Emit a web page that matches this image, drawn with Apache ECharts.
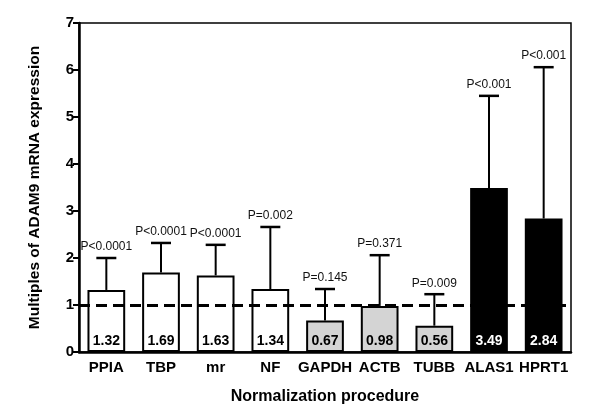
<!DOCTYPE html>
<html><head><meta charset="utf-8">
<script src="https://cdn.jsdelivr.net/npm/echarts@6/dist/echarts.min.js"></script>
<style>html,body{margin:0;padding:0;background:#fff}#c{width:600px;height:418px}</style>
</head><body><div id="c"></div>
<script>
const categories = ['PPIA','TBP','mr','NF','GAPDH','ACTB','TUBB','ALAS1','HPRT1'];
const means = [1.32,1.69,1.63,1.34,0.67,0.98,0.56,3.49,2.84];
const errTop = [2.0,2.32,2.28,2.66,1.34,2.06,1.23,5.45,6.06];
const pLabels = ['P<0.0001','P<0.0001','P<0.0001','P=0.002','P=0.145','P=0.371','P=0.009','P<0.001','P<0.001'];
const groups = ['w','w','w','w','g','g','g','b','b'];
const yTicks = [0,1,2,3,4,5,6,7];

const fill = {w:'#ffffff', g:'#d4d4d4', b:'#000000'};
const chart = echarts.init(document.getElementById('c'));
const font = 'Liberation Sans, Arial, sans-serif';

chart.setOption({
  animation:false,
  grid:{left:79,right:29,top:23,bottom:66,show:true,borderColor:'#000',borderWidth:1.5,backgroundColor:'transparent'},
  xAxis:{type:'category',data:categories,
    name:'Normalization procedure',nameLocation:'middle',nameGap:37,
    nameTextStyle:{fontFamily:font,fontWeight:'bold',fontSize:16,color:'#000'},
    axisLine:{lineStyle:{color:'#000',width:2.5}},
    axisTick:{alignWithLabel:true,length:5,lineStyle:{color:'#000',width:2}},
    axisLabel:{interval:0,fontFamily:font,fontWeight:'bold',fontSize:15,color:'#000',margin:8}},
  yAxis:{type:'value',min:0,max:7,interval:1,
    name:'Multiples of ADAM9 mRNA expression',nameLocation:'middle',nameGap:36,
    nameTextStyle:{fontFamily:font,fontWeight:'bold',fontSize:15.5,color:'#000'},
    splitLine:{show:false},
    axisLine:{show:true,lineStyle:{color:'#000',width:2.5}},
    axisTick:{show:true,length:6,lineStyle:{color:'#000',width:2}},
    axisLabel:{fontFamily:font,fontWeight:'bold',fontSize:15,color:'#000',margin:5,
      formatter:v=>yTicks.includes(v)?String(v):''}},
  series:[
    {type:'bar',barCategoryGap:'31%',z:2,
     data:means.map((v,i)=>({value:v,itemStyle:{color:fill[groups[i]],borderColor:'#000',borderWidth:2},
       label:{color:groups[i]==='b'?'#fff':'#000'}})),
     label:{show:true,position:'insideBottom',distance:4,fontFamily:font,fontWeight:'bold',fontSize:14,
       formatter:p=>p.value.toFixed(2)},
     markLine:{silent:true,symbol:'none',label:{show:false},z:5,
       lineStyle:{color:'#000',type:[11,6],width:3},data:[{yAxis:1}]}},
    {type:'custom',z:1,
     data:errTop.map((t,i)=>[i,means[i],t]),
     renderItem:(params,api)=>{
       const i=api.value(0);
       const b=api.coord([i,api.value(1)]);
       const t=api.coord([i,api.value(2)]);
       const hw=10;
       return {type:'group',children:[
         {type:'line',shape:{x1:b[0],y1:b[1],x2:t[0],y2:t[1]},style:{stroke:'#000',lineWidth:2}},
         {type:'line',shape:{x1:t[0]-hw,y1:t[1],x2:t[0]+hw,y2:t[1]},style:{stroke:'#000',lineWidth:2.5}},
         {type:'text',x:t[0],y:t[1]-5,style:{text:pLabels[i],textAlign:'center',textVerticalAlign:'bottom',
           font:'12px '+font,fill:'#111'}}
       ]};
     }}
  ]
});
</script></body></html>
